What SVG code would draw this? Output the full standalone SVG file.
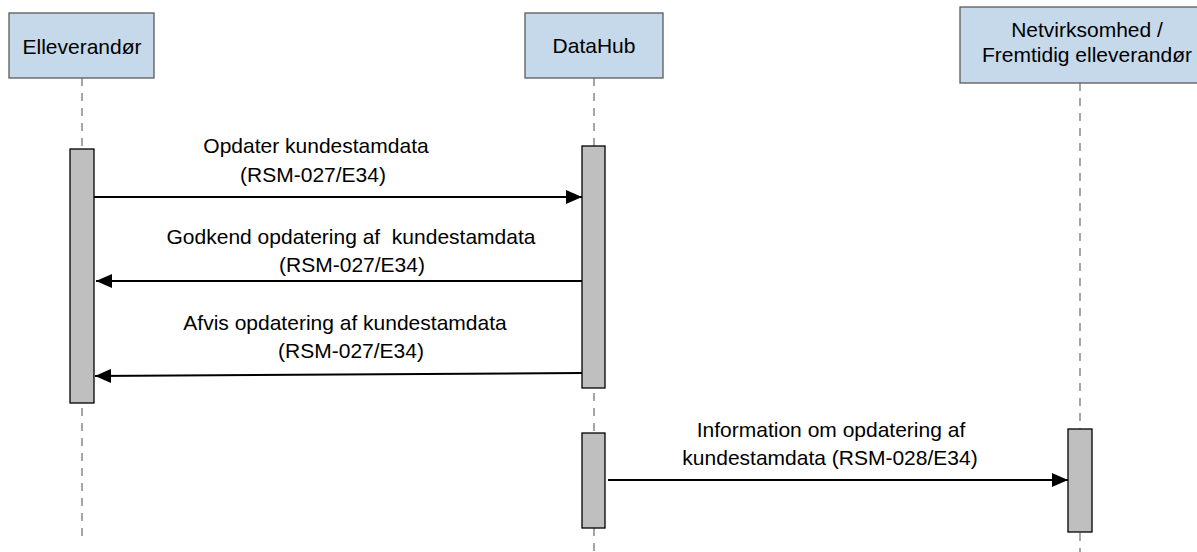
<svg xmlns="http://www.w3.org/2000/svg" width="1197" height="552" viewBox="0 0 1197 552">
  <style>
    .actor { fill: #c5d9ea; stroke: #5a5a5a; stroke-width: 1.3; }
    .bar { fill: #bfbfbf; stroke: #000000; stroke-width: 1.3; }
    .life { stroke: #808080; stroke-width: 1.4; stroke-dasharray: 8 7; fill: none; }
    .msg { stroke: #000000; stroke-width: 2; fill: none; }
    text { font-family: "Liberation Sans", Arial, sans-serif; font-size: 21px; fill: #000000; text-anchor: middle; white-space: pre; }
  </style>
  <defs>
    <marker id="arrow" markerUnits="userSpaceOnUse" markerWidth="16" markerHeight="14" refX="16" refY="7" orient="auto">
      <path d="M0,0 L16,7 L0,14 Z" fill="#000000"/>
    </marker>
  </defs>
  <rect width="1197" height="552" fill="#ffffff"/>

  <g id="lifelines">
    <line class="life" x1="82" y1="78" x2="82" y2="537"/>
    <line class="life" x1="594" y1="78" x2="594" y2="552"/>
    <line class="life" x1="1080" y1="83" x2="1080" y2="552"/>
  </g>

  <g id="elleverandor">
    <rect class="actor" x="9" y="13" width="145" height="65"/>
    <text x="82" y="54">Elleverandør</text>
    <rect class="bar" x="70" y="149" width="24" height="254"/>
  </g>

  <g id="datahub">
    <rect class="actor" x="525" y="13" width="138" height="65"/>
    <text x="594" y="53">DataHub</text>
    <rect class="bar" x="582" y="146" width="23" height="242"/>
    <rect class="bar" x="582" y="433" width="23" height="95"/>
  </g>

  <g id="netvirksomhed">
    <rect class="actor" x="960" y="7" width="254" height="76"/>
    <text x="1087" y="37">Netvirksomhed /</text>
    <text x="1087" y="62">Fremtidig elleverandør</text>
    <rect class="bar" x="1068" y="429" width="24" height="103"/>
  </g>

  <g id="connectors">
    <line class="msg" x1="94" y1="197" x2="582" y2="197" marker-end="url(#arrow)"/>
    <line class="msg" x1="582" y1="281" x2="96" y2="281" marker-end="url(#arrow)"/>
    <line class="msg" x1="582" y1="373" x2="95" y2="376" marker-end="url(#arrow)"/>
    <line class="msg" x1="608" y1="480" x2="1068" y2="480" marker-end="url(#arrow)"/>
  </g>

  <g id="labels">
    <text x="316" y="153">Opdater kundestamdata</text>
    <text x="313" y="182">(RSM-027/E34)</text>
    <text x="351" y="244">Godkend opdatering af  kundestamdata</text>
    <text x="352" y="272">(RSM-027/E34)</text>
    <text x="345" y="330">Afvis opdatering af kundestamdata</text>
    <text x="351" y="358">(RSM-027/E34)</text>
    <text x="831" y="437">Information om opdatering af</text>
    <text x="830" y="465">kundestamdata (RSM-028/E34)</text>
  </g>
</svg>
